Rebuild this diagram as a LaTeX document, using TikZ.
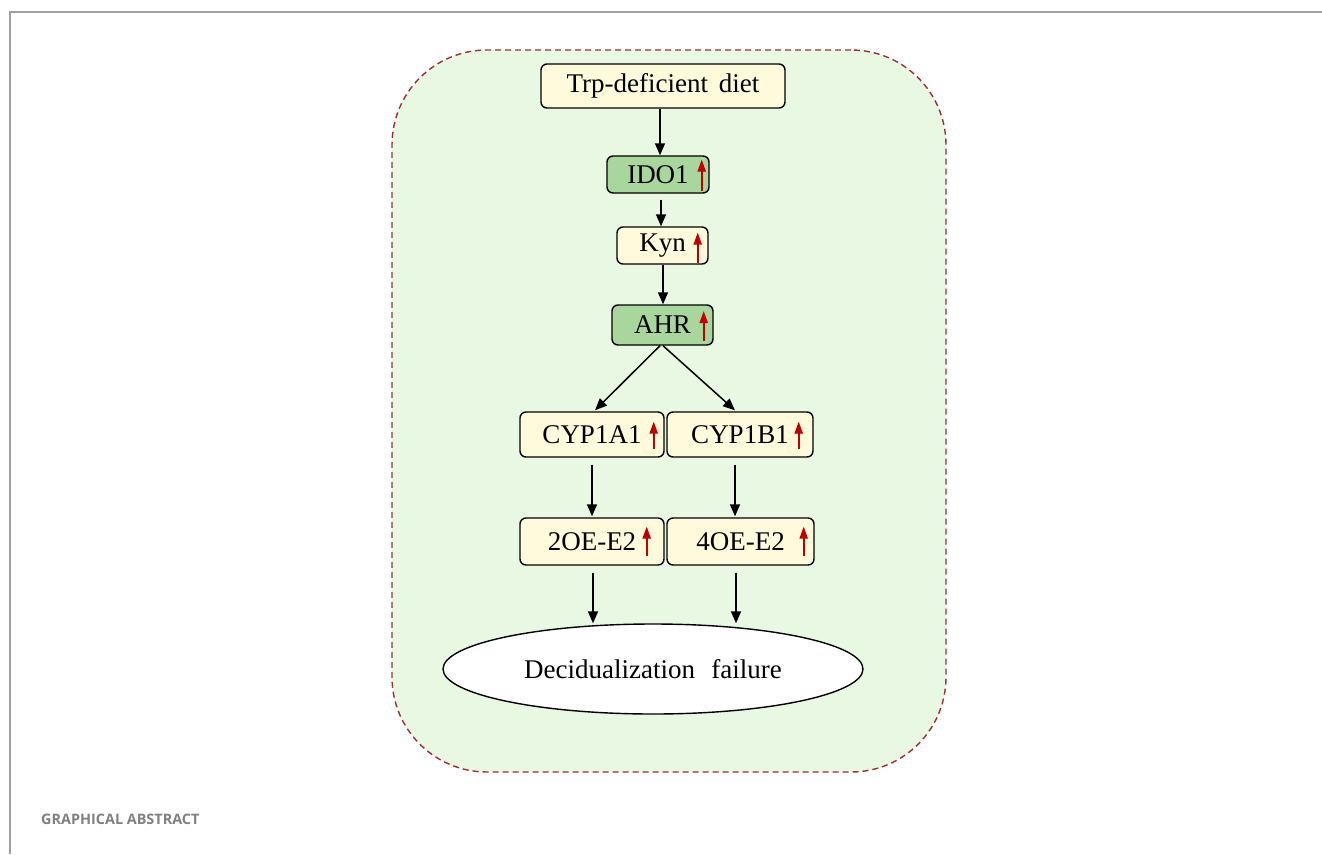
\documentclass[tikz,border=0pt]{standalone}
\usepackage{fontspec}
\setmainfont{Liberation Serif}
\newfontfamily\capfont{Open Sans}
\usetikzlibrary{arrows.meta,shapes.geometric,calc}

\definecolor{panelfill}{HTML}{E9F8E3}
\definecolor{panelline}{HTML}{9B3030}
\definecolor{creamfill}{HTML}{FFFADC}
\definecolor{greenfill}{HTML}{A8D69C}
\definecolor{uparrowred}{HTML}{C00000}
\definecolor{framegray}{HTML}{A0A0A0}
\definecolor{capgray}{HTML}{808080}

\tikzset{
  panel/.style={draw=panelline, fill=panelfill, line width=1.4pt,
    dash pattern=on 6pt off 4pt, rounded corners=95pt, inner sep=0pt},
  pbox/.style={draw=black, fill=creamfill, line width=1.4pt,
    rounded corners=6pt, inner sep=0pt,
    font=\fontsize{27}{29}\selectfont},
  gbox/.style={pbox, fill=greenfill},
  outcome/.style={ellipse, draw=black, fill=white, line width=1.4pt,
    inner sep=0pt, font=\fontsize{27}{29}\selectfont},
  conn/.style={draw=black, line width=1.5pt,
    -{Triangle[length=12pt,width=10pt]}},
  uparr/.style={draw=uparrowred, line width=2pt,
    -{Triangle[length=12pt,width=8pt]}},
}

% red "increase" arrow inside the right end of a box:
% #1 node, #2 offset from east anchor, #3 top offset, #4 bottom offset
\newcommand\incmark[4]{%
  \draw[uparr] ($(#1.east)+(#2,#4)$) -- ($(#1.east)+(#2,#3)$);}

\begin{document}
\begin{tikzpicture}[x=1pt,y=-1pt]
  \useasboundingbox (0,0) rectangle (1322,854);

  % page frame and caption
  \draw[framegray, line width=2pt] (10,854) -- (10,12) -- (1322,12);
  \node[anchor=base west, inner sep=0pt, text=capgray,
        font=\capfont\bfseries\fontsize{14.4}{16}\selectfont]
        (cap) at (41,824.5) {GRAPHICAL ABSTRACT};

  % dashed panel
  \node[panel, minimum width=554pt, minimum height=722pt] (panel) at (669,411) {};

  % pathway boxes
  \node[pbox, minimum width=244pt, minimum height=44pt] (trp) at (663,86)
        {Trp-deficient\hspace{0.4em}diet};
  \node[gbox, minimum width=102pt, minimum height=37pt] (ido) at (658,174.5) {IDO1\hspace{5pt}};
  \node[pbox, minimum width=91pt, minimum height=37pt] (kyn) at (662.5,245.5) {Kyn\hspace{2pt}};
  \node[gbox, minimum width=101pt, minimum height=40pt] (ahr) at (662.5,325) {AHR};
  \node[pbox, minimum width=144pt, minimum height=45pt] (cypa) at (592,434.5) {CYP1A1\hspace{4pt}};
  \node[pbox, minimum width=146pt, minimum height=45pt] (cypb) at (740,434.5) {CYP1B1\hspace{5pt}};
  \node[pbox, minimum width=144pt, minimum height=47pt] (oea) at (592,541.5) {2OE-E2};
  \node[pbox, minimum width=147pt, minimum height=47pt] (oeb) at (740.5,541.5) {4OE-E2};
  \node[outcome, minimum width=420pt, minimum height=90pt] (dec) at (653,669)
        {Decidualization\hspace{0.6em}failure};

  % increase marks
  \incmark{ido}{-8}{-15}{16}
  \incmark{kyn}{-11}{-13}{17}
  \incmark{ahr}{-10}{-14}{16}
  \incmark{cypa}{-11}{-13}{14}
  \incmark{cypb}{-15}{-13}{14}
  \incmark{oea}{-18}{-15}{14}
  \incmark{oeb}{-11}{-15}{14}

  % connectors
  \coordinate (dA) at ($(oea.south)+(1,0)$);
  \coordinate (dB) at ($(oeb.south)+(-4.5,0)$);
  \coordinate (cB) at ($(cypb.south)+(-5,0)$);
  \draw[conn] ($(trp.south)+(-3,0)$) -- ($(ido.north)+(2,0)$);
  \draw[conn, shorten <=6pt] ($(ido.south)+(3,0)$) -- ($(kyn.north)+(-1.5,0)$);
  \draw[conn] ($(kyn.south)+(0.5,0)$) -- ($(ahr.north)+(0.5,0)$);
  \draw[conn] ($(ahr.south)+(-2.5,0)$) -- ($(cypa.north)+(3,-1)$);
  \draw[conn] ($(ahr.south)+(0.5,0)$) -- ($(cypb.north)+(-5,-1)$);
  \draw[conn, shorten <=7pt, shorten >=1pt] (cypa.south) -- (oea.north);
  \draw[conn, shorten <=7pt, shorten >=1pt] (cB) -- (cB |- oeb.north);
  \draw[conn, shorten <=7pt] (dA) -- (dA |- dec.north);
  \draw[conn, shorten <=7pt] (dB) -- (dB |- dec.north);
\end{tikzpicture}
\end{document}
